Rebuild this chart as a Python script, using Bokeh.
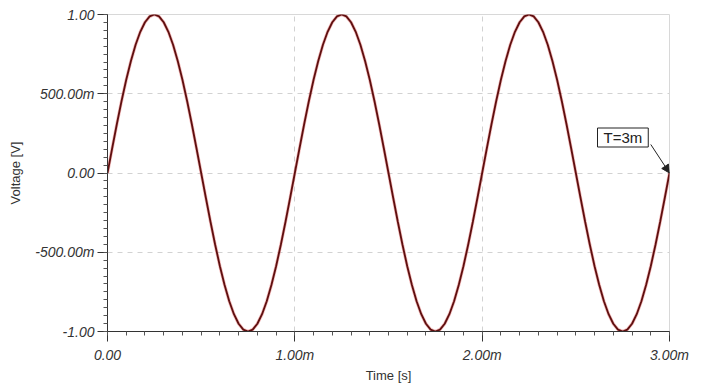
from bokeh.plotting import figure
from bokeh.models import (CustomJSTickFormatter, FixedTicker, Range1d, Label, Arrow,
                          NormalHead)
from bokeh.embed import file_html
from bokeh.resources import INLINE

# ---- data ----
time_ms = [i * 0.025 for i in range(121)]
cycle = [0.000, 0.156, 0.309, 0.454, 0.588, 0.707, 0.809, 0.891, 0.951, 0.988,
         1.000, 0.988, 0.951, 0.891, 0.809, 0.707, 0.588, 0.454, 0.309, 0.156,
         0.000, -0.156, -0.309, -0.454, -0.588, -0.707, -0.809, -0.891, -0.951, -0.988,
         -1.000, -0.988, -0.951, -0.891, -0.809, -0.707, -0.588, -0.454, -0.309, -0.156]
voltage = cycle + cycle + cycle + [0.000]

x_ticks = [0, 1, 2, 3]
y_ticks = [-1.0, -0.5, 0.0, 0.5, 1.0]
marker_text = "T=3m"
marker_x, marker_y = 3.0, 0.0
arrow_from_x, arrow_from_y = 2.9, 0.18

FONT = "Liberation Sans"

p = figure(width=710, height=388, output_backend="svg", toolbar_location=None,
           x_range=Range1d(0, 3), y_range=Range1d(-1, 1),
           min_border_left=107, min_border_right=41, min_border_top=14,
           min_border_bottom=57)
p.background_fill_color = "white"
p.border_fill_color = "white"
p.outline_line_color = "#d8d8d8"
p.outline_line_width = 1

# halo + main trace
p.line(time_ms, voltage, line_color="#e06060", line_width=3.2, line_alpha=0.45)
p.line(time_ms, voltage, line_color="#5e0f0f", line_width=1.8)

xfmt = CustomJSTickFormatter(code="""
    if (Math.abs(tick) < 1e-9) return "0.00";
    return tick.toFixed(2) + "m";
""")
yfmt = CustomJSTickFormatter(code="""
    if (Math.abs(tick) < 1e-9) return "0.00";
    if (Math.abs(tick) >= 1) return tick.toFixed(2);
    return (tick*1000).toFixed(2) + "m";
""")

p.xaxis.ticker = FixedTicker(ticks=x_ticks,
                             minor_ticks=[i * 0.1 for i in range(31)])
p.yaxis.ticker = FixedTicker(ticks=y_ticks,
                             minor_ticks=[-1 + i * 0.05 for i in range(41)])
p.xaxis.formatter = xfmt
p.yaxis.formatter = yfmt

for ax in (p.xaxis, p.yaxis):
    ax.axis_line_color = "#333333"
    ax.axis_line_width = 1
    ax.major_tick_line_color = "#333333"
    ax.minor_tick_line_color = "#555555"
    ax.major_tick_in = 0
    ax.major_tick_out = 10
    ax.minor_tick_in = 0
    ax.minor_tick_out = 4
    ax.major_label_text_font = FONT
    ax.major_label_text_font_style = "italic"
    ax.major_label_text_font_size = "14px"
    ax.major_label_text_color = "#333333"
    ax.axis_label_text_font = FONT
    ax.axis_label_text_font_style = "normal"
    ax.axis_label_text_font_size = "13px"
    ax.axis_label_text_color = "#333333"

p.xaxis.major_label_text_align = "left"
p.xaxis.axis_label = "Time [s]"
p.yaxis.axis_label = "Voltage [V]"
p.xaxis.major_label_standoff = 5
p.yaxis.major_label_standoff = 3
p.xaxis.axis_label_standoff = 2
p.yaxis.axis_label_standoff = 9

for g in (p.xgrid, p.ygrid):
    g.grid_line_color = "#d2d2d2"
    g.grid_line_dash = "5 5"
    g.grid_line_width = 1
p.xgrid.ticker = FixedTicker(ticks=x_ticks)
p.ygrid.ticker = FixedTicker(ticks=y_ticks)

# marker annotation
lbl = Label(x=marker_x, y=marker_y, x_offset=-72, y_offset=26, text=marker_text,
            text_font=FONT, text_font_size="15px", text_color="#222222",
            text_align="left", text_baseline="bottom",
            border_line_color="#222222", border_line_width=1,
            background_fill_color="white", padding=(6, 1))
p.add_layout(lbl)
p.add_layout(Arrow(end=NormalHead(size=8, fill_color="#222222", line_color="#222222"),
                   x_start=arrow_from_x, y_start=arrow_from_y,
                   x_end=marker_x, y_end=marker_y,
                   line_color="#222222", line_width=1))

open("out.html", "w").write(file_html(p, INLINE))
